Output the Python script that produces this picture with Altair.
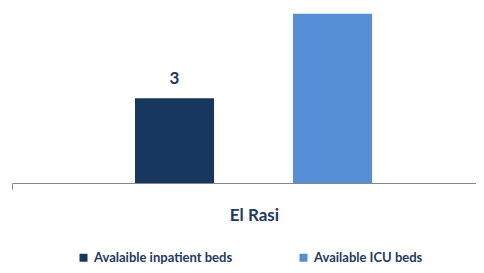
import altair as alt
import pandas as pd

categories = ["El Rasi", "El Rasi"]
series = ["Avalaible inpatient beds", "Available ICU beds"]
values = [3, 6]
colors = ["#17375E", "#558ED5"]

df = pd.DataFrame({"category": categories, "series": series, "value": values})

text_color = "#1F3864"

x = alt.X("category:N", title=None,
          scale=alt.Scale(paddingInner=0, paddingOuter=0),
          axis=alt.Axis(labelAngle=0, labelFont="Lato", labelFontSize=17,
                        labelFontWeight="bold", labelColor=text_color,
                        labelOffset=10, labelPadding=31, labelBaseline="alphabetic",
                        domainColor="#868686", tickColor="#868686",
                        tickBand="extent", tickSize=6))
xo = alt.XOffset("series:N", sort=series,
                 scale=alt.Scale(paddingInner=0.5, paddingOuter=0.718, align=0.542))
y = alt.Y("value:Q", axis=None, scale=alt.Scale(domain=[0, 6.2], nice=False))

bars = alt.Chart(df).mark_bar().encode(
    x=x, xOffset=xo, y=y,
    color=alt.Color("series:N", sort=series,
                    scale=alt.Scale(domain=series, range=colors),
                    legend=alt.Legend(orient="none", legendX=65, legendY=243,
                                      direction="horizontal", title=None,
                                      symbolType="square", symbolSize=64,
                                      symbolStrokeWidth=0,
                                      labelFont="Lato", labelFontSize=13,
                                      labelFontWeight="bold", labelColor=text_color,
                                      columnPadding=64, padding=0, labelOffset=4)),
)

labels = alt.Chart(df).mark_text(baseline="alphabetic", dy=-14, font="Lato",
                                 fontSize=17, fontWeight="bold",
                                 color=text_color, clip=True).encode(
    x=x, xOffset=xo, y=y, text=alt.Text("value:Q")
)

chart = (bars + labels).properties(
    width=464, height=175,
    autosize=alt.AutoSizeParams(type="none"),
    padding={"left": 4, "right": 0, "top": 0, "bottom": 82},
).configure_view(stroke=None)

chart.save("out.html", embed_options={"renderer": "svg", "actions": False})
